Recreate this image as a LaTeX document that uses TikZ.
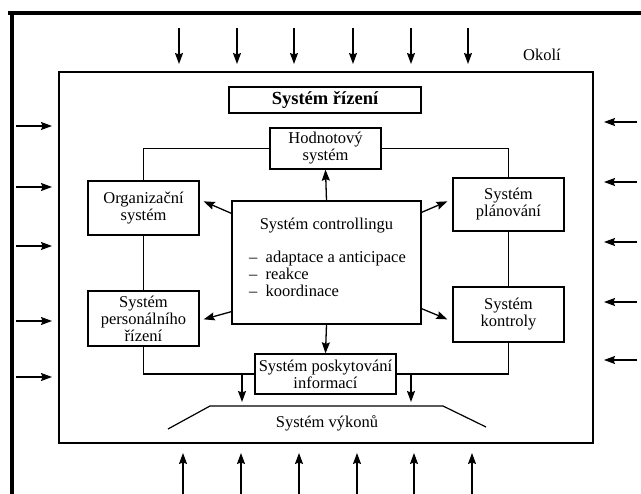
\documentclass[tikz,border=0pt]{standalone}
\usepackage{fontspec}
\setmainfont{Liberation Serif}
\usetikzlibrary{arrows.meta,calc}
\begin{document}
\begin{tikzpicture}[x=1pt,y=-1pt,
  box/.style={draw,line width=1.3pt,inner sep=0pt,align=center,font=\fontsize{16.5}{17}\selectfont},
  conn/.style={line width=1.2pt},
  arr/.style={line width=1.3pt,-{Stealth[length=11pt,width=8pt,inset=1.5pt]}},
  lbl/.style={inner sep=0pt,font=\fontsize{16.5}{17}\selectfont}]
\useasboundingbox (0,0) rectangle (641,494);
% outer thick lines
\draw[line width=4pt] (8,13) -- (641,13);
\draw[line width=4pt] (12,11) -- (12,494);
% inner frame
\draw[line width=1.5pt] (59,72) rectangle (593,443);
% boxes
\node[box,minimum width=192pt,minimum height=26pt,font=\fontsize{18.5}{20}\selectfont\bfseries] (rizeni) at (325,100) {Systém řízení};
\node[box,minimum width=111pt,minimum height=41pt] (hodn) at (325.5,148.5) {Hodnotový\\systém};
\node[box,minimum width=111pt,minimum height=54pt] (org) at (143.5,208) {Organizační\\systém};
\node[box,minimum width=111pt,minimum height=53pt] (plan) at (508.5,204.5) {Systém\\plánování};
\node[box,minimum width=189pt,minimum height=123pt] (ctrl) at (326.5,262.5) {};
\node[box,minimum width=111pt,minimum height=55pt] (pers) at (143.5,318.5) {Systém\\personálního\\řízení};
\node[box,minimum width=111pt,minimum height=55pt] (kont) at (508.5,314.5) {Systém\\kontroly};
\node[box,minimum width=141pt,minimum height=40pt] (posk) at (325.5,374) {Systém poskytování\\informací};
% text inside controlling
\node[lbl] (ctitle) at (326.5,226) {Systém controllingu};
\node[lbl,anchor=north west,align=left] (clist) at (249,251)
  {–\enspace adaptace a anticipace\\–\enspace reakce\\–\enspace koordinace};
% connectors
\draw[conn] (hodn.west) -| (org.north);
\draw[conn] (hodn.east) -| (plan.north);
\draw[conn] (org.south) -- (pers.north);
\draw[conn] (plan.south) -- (kont.north);
\draw[conn] (pers.south) |- (posk.west);
\draw[conn] (kont.south) |- (posk.east);
% arrows from controlling
\draw[arr] (ctrl.north) -- (hodn.south);
\draw[arr] (ctrl.south) -- (posk.north);
\draw[arr] ($(ctrl.north west)+(0,13)$) -- ($(org.north east)+(4,21)$);
\draw[arr] ($(ctrl.south west)+(0,-13)$) -- ($(pers.north east)+(4,29)$);
\draw[arr] ($(ctrl.north east)+(0,12)$) -- ($(plan.north west)+(-5,24)$);
\draw[arr] ($(ctrl.south east)+(0,-16)$) -- ($(kont.north west)+(-5,33)$);
% arrows to performance system
\coordinate (d1) at (242,374);
\coordinate (d2) at (411,374);
\coordinate (e1) at (242,402);
\coordinate (e2) at (411,402);
\draw[arr] (d1) -- (e1);
\draw[arr] (d2) -- (e2);
% performance system
\draw[conn] (168,429) -- (210,406) -- (443,406) -- (486,427);
\node[lbl] (vykon) at (327,423) {Systém výkonů};
% environment
\node[lbl] (okoli) at (542,55) {Okolí};
\foreach \x in {179,237,294,353,411,468} {
  \coordinate (t1) at (\x,28); \coordinate (t2) at (\x,64);
  \draw[arr] (t1) -- (t2);
}
\foreach \x in {183,241,299,357,414,472} {
  \coordinate (b1) at (\x,494); \coordinate (b2) at (\x,453);
  \draw[arr] (b1) -- (b2);
}
\foreach \y in {126,187,246,321,377} {
  \coordinate (l1) at (16,\y); \coordinate (l2) at (52,\y);
  \draw[arr] (l1) -- (l2);
}
\foreach \y in {122,182,242,302,360} {
  \coordinate (r1) at (637,\y); \coordinate (r2) at (604,\y);
  \draw[arr] (r1) -- (r2);
}
\end{tikzpicture}
\end{document}
